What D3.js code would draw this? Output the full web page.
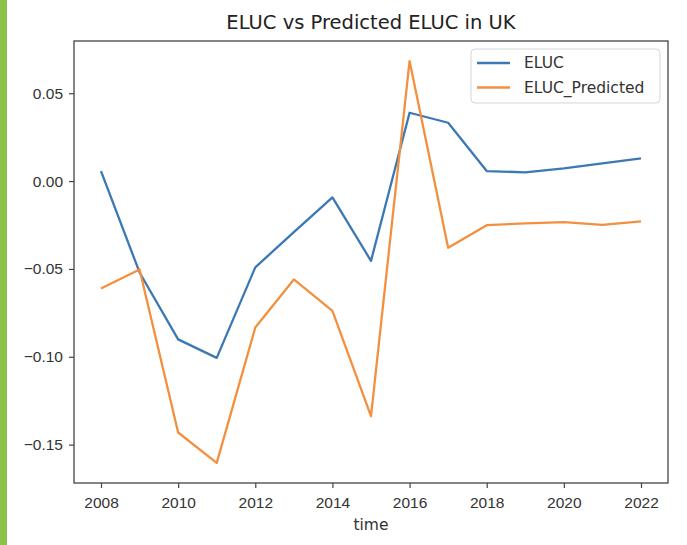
<!DOCTYPE html>
<html>
<head>
<meta charset="utf-8">
<script src="https://cdn.jsdelivr.net/npm/d3@7"></script>
<style>
  body { margin: 0; background: #fff; }
  svg { display: block; font-family: "DejaVu Sans", sans-serif; }
</style>
</head>
<body>
<svg width="687" height="545"></svg>
<script>
const years = [2008, 2009, 2010, 2011, 2012, 2013, 2014, 2015, 2016, 2017, 2018, 2019, 2020, 2021, 2022];
const eluc = [0.0057, -0.052, -0.0901, -0.1006, -0.0491, -0.029, -0.0093, -0.0454, 0.0389, 0.0332, 0.0057, 0.0050, 0.0072, 0.0101, 0.0129];
const elucPredicted = [-0.0611, -0.0503, -0.1431, -0.1604, -0.0833, -0.0560, -0.0739, -0.1338, 0.0683, -0.0380, -0.0251, -0.0241, -0.0233, -0.0249, -0.0229];
const xTicks = [2008, 2010, 2012, 2014, 2016, 2018, 2020, 2022];
const yTicks = [-0.15, -0.10, -0.05, 0.00, 0.05];
const seriesNames = ["ELUC", "ELUC_Predicted"];
const colors = ["#3b78b4", "#f3903f"];

// plot box edges
const plotL = 74, plotR = 668, plotT = 41, plotB = 483;

const svg = d3.select("svg");

// left green strip of the page the chart was cut from
svg.append("rect").attr("x", 0).attr("y", 0).attr("width", 7).attr("height", 545).attr("fill", "#8bc34a");

// matplotlib style 5% margins
const xMin = d3.min(years), xMax = d3.max(years);
const xPad = (xMax - xMin) * 0.05;
const x = d3.scaleLinear().domain([xMin - xPad, xMax + xPad]).range([plotL, plotR]);

const all = eluc.concat(elucPredicted);
const yMin = d3.min(all), yMax = d3.max(all);
const yPad = (yMax - yMin) * 0.05;
const y = d3.scaleLinear().domain([yMin - yPad, yMax + yPad]).range([plotB, plotT]);

// axes
const gx = svg.append("g")
  .attr("transform", `translate(0, ${plotB})`)
  .call(d3.axisBottom(x).tickValues(xTicks).tickFormat(d3.format("d")).tickSize(5).tickPadding(9));
const gy = svg.append("g")
  .attr("transform", `translate(${plotL}, 0)`)
  .call(d3.axisLeft(y).tickValues(yTicks).tickFormat(d3.format(".2f")).tickSize(5).tickPadding(6));

[gx, gy].forEach(g => {
  g.select(".domain").remove();
  g.selectAll("line").attr("stroke", "#444").attr("stroke-width", 1.2);
  g.selectAll("text").attr("fill", "#333").style("font-size", "15.5px");
});

// lines
const line = d3.line().x((d, i) => x(years[i])).y(d => y(d));
[eluc, elucPredicted].forEach((s, k) => {
  svg.append("path")
    .datum(s)
    .attr("d", line)
    .attr("fill", "none")
    .attr("stroke", colors[k])
    .attr("stroke-width", 2.3)
    .attr("stroke-linejoin", "round");
});

// frame
svg.append("rect")
  .attr("x", plotL).attr("y", plotT)
  .attr("width", plotR - plotL).attr("height", plotB - plotT)
  .attr("fill", "none").attr("stroke", "#444").attr("stroke-width", 1.3);

// title + x label
svg.append("text")
  .attr("x", (plotL + plotR) / 2).attr("y", 29)
  .attr("text-anchor", "middle")
  .attr("fill", "#222")
  .style("font-size", "19.5px")
  .text("ELUC vs Predicted ELUC in UK");

svg.append("text")
  .attr("x", (plotL + plotR) / 2).attr("y", 530)
  .attr("text-anchor", "middle")
  .attr("fill", "#333")
  .style("font-size", "15.5px")
  .text("time");

// legend
const lg = svg.append("g").attr("transform", "translate(471, 49)");
lg.append("rect")
  .attr("width", 189).attr("height", 54).attr("rx", 4)
  .attr("fill", "#fff").attr("fill-opacity", 0.8)
  .attr("stroke", "#d6d6d6");
seriesNames.forEach((name, i) => {
  const row = lg.append("g").attr("transform", `translate(0, ${14 + i * 24.5})`);
  row.append("line").attr("x1", 6).attr("x2", 39)
    .attr("stroke", colors[i]).attr("stroke-width", 2.3);
  row.append("text").attr("x", 53).attr("dy", "0.35em")
    .attr("fill", "#333").style("font-size", "15.5px").text(name);
});
</script>
</body>
</html>
